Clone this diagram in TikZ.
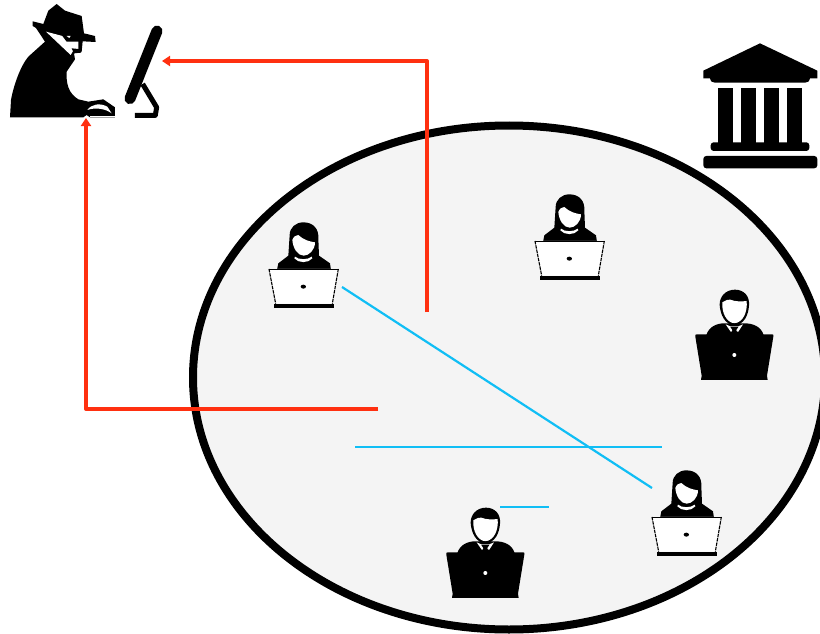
\documentclass[tikz,border=0pt]{standalone}
\usetikzlibrary{arrows.meta}
\definecolor{redline}{HTML}{FF3010}
\definecolor{blueline}{HTML}{10BEF5}
\definecolor{disc}{HTML}{F4F4F4}
\tikzset{
  x=1pt,y=-1pt,
  redarrow/.style={draw=redline,line width=4pt,line join=round,-{Triangle[length=8pt,width=10pt]}},
  blueseg/.style={draw=blueline,line width=2.2pt},
  woman/.pic={
    \begin{scope}[x=0.3333pt,y=-0.3333pt]
    \fill[black] (145,22) .. controls (175,22) and (192,42) .. (190,70) -- (192,122) -- (225,145) -- (228,165) -- (66,165) -- (70,145) -- (100,122) -- (104,60) .. controls (104,38) and (122,22) .. (145,22) -- cycle;
    \fill[white] (112,75) .. controls (116,65) and (122,60) .. (130,60) .. controls (145,75) and (165,80) .. (180,82) .. controls (180,105) and (162,122) .. (146,122) .. controls (128,122) and (114,100) .. (112,75) -- cycle;
    \fill[white] (120,125) .. controls (130,135) and (160,135) .. (170,125) -- (172,130) .. controls (160,145) and (130,145) .. (118,130) -- cycle;
    \fill[white] (42,162) -- (250,162) -- (232,266) -- (62,266) -- cycle;
    \draw[black,line width=1.1pt,dash pattern=on 3.5pt off 0.8pt] (42,162) -- (62,266);
    \draw[black,line width=1.1pt,dash pattern=on 3.5pt off 0.8pt] (250,162) -- (232,266);
    \draw[black,line width=0.4pt] (42,162) -- (250,162);
    \fill[black] (58,268) -- (236,268) -- (236,279) -- (58,279) -- cycle;
    \fill[black] (145,215) ellipse [x radius=8,y radius=6];
    \end{scope}
  },
  man/.pic={
    \begin{scope}[x=0.3333pt,y=-0.3333pt]
    \fill[black] (150,14) .. controls (178,14) and (195,35) .. (192,62) .. controls (190,90) and (178,118) .. (148,122) .. controls (120,118) and (106,90) .. (104,60) .. controls (103,35) and (122,14) .. (150,14) -- cycle;
    \fill[white] (112,52) .. controls (125,45) and (130,42) .. (136,44) .. controls (150,50) and (170,50) .. (185,48) .. controls (188,80) and (175,112) .. (148,115) .. controls (125,112) and (110,85) .. (112,52) -- cycle;
    \fill[black] (64,150) .. controls (72,125) and (95,115) .. (118,115) -- (178,115) .. controls (205,115) and (228,125) .. (236,150) -- cycle;
    \fill[white] (122,118) -- (136,124) -- (160,124) -- (174,118) -- (160,140) -- (137,140) -- cycle;
    \fill[black] (136,126) -- (160,126) -- (154,135) -- (158,148) -- (138,148) -- (142,135) -- cycle;
    \fill[black] (35,148) -- (262,148) .. controls (266,148) and (266,150) .. (265,155) -- (246,272) -- (248,285) -- (48,285) -- (50,272) -- (31,155) .. controls (30,150) and (31,148) .. (35,148) -- cycle;
    \fill[white] (148,210) circle [radius=6];
    \end{scope}
  },
}
\begin{document}
\begin{tikzpicture}
\useasboundingbox (0,0) rectangle (820,634);
\begin{scope}
\clip (0,0) rectangle (820,634);
\node[draw=none,inner sep=0pt] (disc0) at (509,377.5) {};
\filldraw[draw=black,fill=disc,line width=8pt] (disc0) ellipse [x radius=316,y radius=252];
\end{scope}
% bank
\begin{scope}[shift={(690,30)},x=0.3333pt,y=-0.3333pt]
\fill[black] (210,40) -- (382,122) -- (382,145) -- (360,145) .. controls (358,155) and (352,158) .. (345,158) -- (75,158) .. controls (68,158) and (62,155) .. (60,145) -- (40,145) -- (40,122) -- cycle;
\foreach \a in {85,153,222,292} \fill[black] (\a,175) rectangle +(45,170);
\fill[black,rounded corners=3pt] (62,337) rectangle (358,363);
\fill[black,rounded corners=3pt] (40,378) rectangle (382,415);
\end{scope}
% people
\pic at (255,215) {woman};
\pic at (521,187) {woman};
\pic at (638,463) {woman};
\pic at (685,285) {man};
\pic at (436,503) {man};
% spy
\begin{scope}[x=0.3333pt,y=-0.3333pt]
\fill[black] (30,352) -- (33,300) .. controls (40,260) and (60,200) .. (85,170) -- (135,125) -- (108,84) -- (98,78) -- (98,64) -- (130,72) -- (145,32) -- (170,12) -- (195,32) -- (245,48) -- (252,100) -- (285,108) -- (287,126) -- (248,124) -- (245,155) -- (222,160) -- (225,178) -- (200,215) .. controls (198,250) and (205,280) .. (235,298) -- (265,305) -- (310,298) -- (345,322) -- (345,352) -- (270,352) -- (260,345) -- (250,352) -- (160,352) -- cycle;
\fill[white] (138,95) -- (195,110) -- (212,122) -- (235,122) -- (235,148) -- (222,148) -- (212,165) -- cycle;
\fill[black] (185,105) -- (240,115) -- (240,125) -- (200,125) -- cycle;
\fill[white] (200,108) -- (212,108) -- (208,114) -- cycle;
\fill[black] (215,145) -- (245,148) -- (243,158) -- (222,160) -- cycle;
\fill[white] (262,330) .. controls (275,312) and (300,308) .. (322,320) -- (335,340) .. controls (315,325) and (285,322) .. (262,330) -- cycle;
\fill[white] (270,352) -- (345,352) -- (345,348) -- (270,348) -- cycle;
% monitor
\draw[black,line width=11pt,line cap=round] (471,93) -- (390,296);
\draw[black,line width=5pt,line join=round] (428,252) -- (470,322) -- (466,346) -- (405,346);
\end{scope}
% connectors
\coordinate (r1s) at (378,409);
\coordinate (r1m) at (86,409);
\coordinate (spy) at (86,118);
\coordinate (r2s) at (427,312);
\coordinate (r2m) at (427,61);
\coordinate (mon) at (162,61);
\draw[redarrow] (r1s) -- (r1m) -- (spy);
\draw[redarrow] (r2s) -- (r2m) -- (mon);
\coordinate (b1a) at (342,287);
\coordinate (b1b) at (652,488);
\coordinate (b2a) at (355,447);
\coordinate (b2b) at (662,447);
\coordinate (b3a) at (500,507);
\coordinate (b3b) at (549,507);
\draw[blueseg] (b1a) -- (b1b);
\draw[blueseg] (b2a) -- (b2b);
\draw[blueseg] (b3a) -- (b3b);
\end{tikzpicture}
\end{document}
